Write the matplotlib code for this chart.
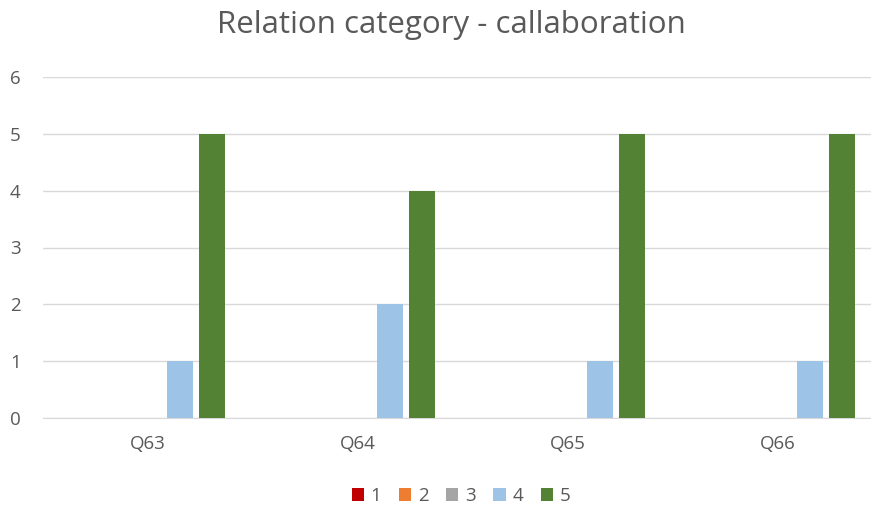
import matplotlib
matplotlib.use("Agg")
import matplotlib.pyplot as plt
import numpy as np

categories = ["Q63", "Q64", "Q65", "Q66"]
series_names = ["1", "2", "3", "4", "5"]
s1 = [0, 0, 0, 0]
s2 = [0, 0, 0, 0]
s3 = [0, 0, 0, 0]
s4 = [1, 2, 1, 1]
s5 = [5, 4, 5, 5]
values = [s1, s2, s3, s4, s5]
colors = ["#C00000", "#ED7D31", "#A5A5A5", "#9DC3E6", "#548235"]

plt.rcParams['font.family'] = ['Open Sans', 'DejaVu Sans']
fig = plt.figure(figsize=(8.71, 5.08), dpi=100)
ax = fig.add_axes([43/871, 90/508, 840/871, 341/508])

x = np.arange(len(categories))
bw = 0.124
step = 0.152
for i, (name, vals, c) in enumerate(zip(series_names, values, colors)):
    ax.bar(x + (i - 2) * step, vals, width=bw, color=c, label=name, zorder=3)

ax.set_xlim(-0.5, len(categories) - 0.5)
ax.set_ylim(0, 6)
ax.set_yticks(range(0, 7))
ax.set_xticks(x)
ax.set_xticklabels(categories)
ax.grid(axis='y', color='#D9D9D9', linewidth=1, zorder=0)
for s in ['top', 'right', 'left']:
    ax.spines[s].set_visible(False)
ax.spines['bottom'].set_color('#D9D9D9')
ax.tick_params(axis='both', length=0, colors='#595959', labelsize=13.5)
ax.tick_params(axis='y', pad=16)
ax.tick_params(axis='x', pad=12)

fig.text(451/871, 1 - 25/508, "Relation category - callaboration", ha='center', va='center',
         fontsize=22.5, color='#595959')

handles, labels = ax.get_legend_handles_labels()
fig.legend(handles, labels, loc='center', bbox_to_anchor=(461/871, 1 - 496/508), ncol=5,
           frameon=False, fontsize=13.5, handlelength=0.65, handleheight=0.65,
           handletextpad=0.35, columnspacing=0.95, labelcolor='#595959')

fig.savefig("out.png", dpi=100)
